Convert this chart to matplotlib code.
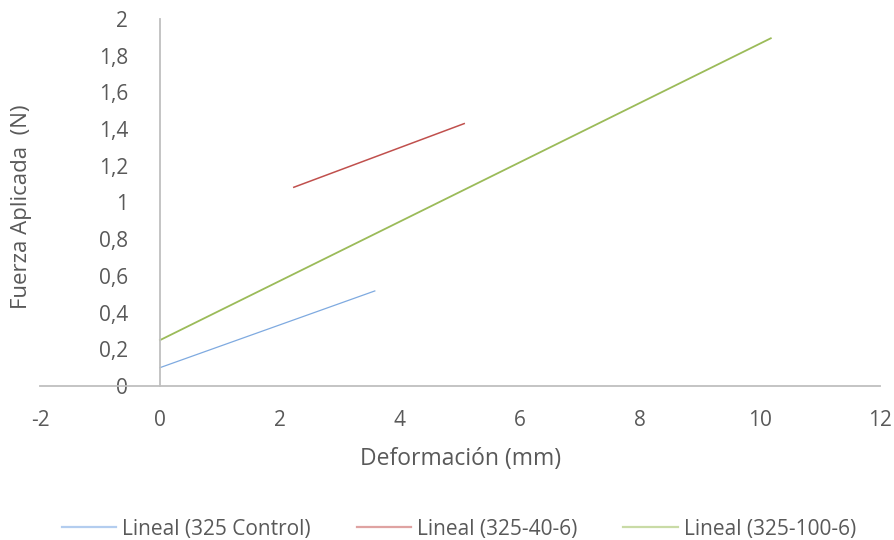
import matplotlib
matplotlib.use("Agg")
from matplotlib import pyplot as plt
from matplotlib.ticker import FuncFormatter

plt.rcParams['font.family'] = ['Open Sans', 'DejaVu Sans']

# datos: extremos de las lineas de tendencia
series = ["Lineal (325 Control)", "Lineal (325-40-6)", "Lineal (325-100-6)"]
x_control = [0.0, 3.58]
y_control = [0.10, 0.518]
x_40 = [2.23, 5.07]
y_40 = [1.083, 1.43]
x_100 = [0.0, 10.18]
y_100 = [0.25, 1.895]
colores = ["#7FAAE0", "#C0504D", "#9BBB59"]
colores_leyenda = ["#B3CDEF", "#DFA3A2", "#C9DBA6"]

gris = "#595959"

fig = plt.figure(figsize=(8.94, 5.4), dpi=100)
ax = fig.add_axes([40 / 894, 154 / 540, 840 / 894, 367 / 540])

ax.plot(x_control, y_control, color=colores[0], lw=0.9, label=series[0])
ax.plot(x_40, y_40, color=colores[1], lw=1.1, label=series[1])
ax.plot(x_100, y_100, color=colores[2], lw=1.3, label=series[2])

ax.set_xlim(-2, 12)
ax.set_ylim(0, 2)
ax.set_xticks(range(-2, 13, 2))
ax.set_yticks([i / 10 for i in range(0, 21, 2)])

coma = FuncFormatter(lambda v, p: ("%g" % round(v, 1)).replace(".", ","))
ax.xaxis.set_major_formatter(coma)
ax.yaxis.set_major_formatter(coma)

for s in ["top", "right"]:
    ax.spines[s].set_visible(False)
ax.spines["left"].set_position(("data", 0))
for s in ["left", "bottom"]:
    ax.spines[s].set_color("#BFBFBF")
    ax.spines[s].set_linewidth(1.3)

ax.tick_params(axis="both", length=0, labelsize=15, labelcolor=gris)
ax.tick_params(axis="y", pad=23)
ax.tick_params(axis="x", pad=17)

fig.text(22 / 894, 1 - 207 / 540, "Fuerza Aplicada  (N)", rotation=90,
         ha="center", va="center", fontsize=16, color=gris)
fig.text(461 / 894, 1 - 459 / 540, "Deformación (mm)", ha="center",
         va="center", fontsize=16.5, color=gris)

leg = fig.legend(loc="center", bbox_to_anchor=(459 / 894, 1 - 529 / 540),
                 ncol=3, frameon=False, fontsize=15, handlelength=2.6,
                 columnspacing=2.2, handletextpad=0.3)
for t in leg.get_texts():
    t.set_color(gris)
for l, c in zip(leg.get_lines(), colores_leyenda):
    l.set_color(c)
    l.set_linewidth(1.6)

fig.savefig("out.png", dpi=100)
